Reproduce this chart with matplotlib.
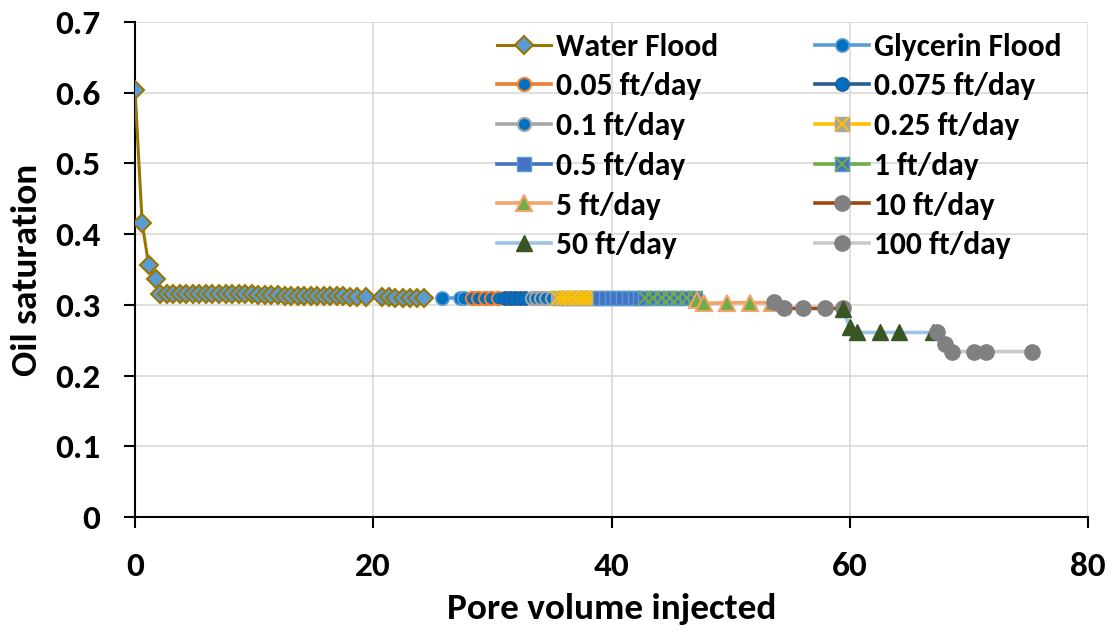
import matplotlib
matplotlib.use("Agg")
import matplotlib.pyplot as plt
from matplotlib import font_manager as fm

# pick a family that really has a bold face
chosen = 'DejaVu Sans'
for fam in ['Carlito', 'Lato', 'Open Sans', 'Noto Sans', 'Liberation Sans', 'Roboto']:
    try:
        f = fm.findfont(fm.FontProperties(family=fam, weight='bold'), fallback_to_default=False)
        if 'bold' in f.lower() or 'black' in f.lower() or 'heavy' in f.lower():
            chosen = fam
            break
    except Exception:
        pass
plt.rcParams['font.family'] = [chosen, 'DejaVu Sans']
plt.rcParams['font.weight'] = 'bold'

# ---- data ----
water_x = [0, 0.6, 1.15, 1.75, 2.1, 2.65, 3.2, 3.75, 4.3, 4.85, 5.4, 5.95, 6.5, 7.05,
           7.6, 8.15, 8.7, 9.25, 9.8, 10.35, 10.9, 11.45, 12.0, 12.55, 13.1, 13.65,
           14.2, 14.75, 15.3, 15.85, 16.4, 16.95, 17.5, 18.05, 18.6, 19.4, 20.7,
           21.3, 21.8, 22.5, 23.1, 23.7, 24.3]
water_y = [0.604, 0.416, 0.356, 0.336, 0.316, 0.316, 0.316, 0.316, 0.316, 0.316,
           0.316, 0.316, 0.316, 0.315, 0.315, 0.315, 0.315, 0.315, 0.315, 0.314,
           0.314, 0.314, 0.314, 0.313, 0.313, 0.313, 0.313, 0.312, 0.312, 0.312,
           0.312, 0.312, 0.312, 0.311, 0.311, 0.311, 0.311, 0.311, 0.310, 0.310,
           0.310, 0.310, 0.310]

glyc_x = [25.8, 27.3, 27.6]
glyc_y = [0.309, 0.309, 0.309]

r005_x = [28.3, 28.8, 29.4, 29.9, 30.5]
r005_y = [0.309, 0.309, 0.309, 0.309, 0.309]

r0075_x = [31.1, 31.5, 31.9, 32.3, 32.7]
r0075_y = [0.309, 0.309, 0.309, 0.309, 0.309]

r01_x = [33.3, 33.7, 34.1, 34.5, 35.0]
r01_y = [0.309, 0.309, 0.309, 0.309, 0.309]

r025_x = [35.5, 35.9, 36.3, 36.7, 37.1, 37.5, 37.9, 38.3, 38.7]
r025_y = [0.309, 0.309, 0.309, 0.309, 0.309, 0.309, 0.309, 0.309, 0.309]

r05_x = [39.0, 39.5, 40.0, 40.5, 41.0, 41.5, 42.0, 42.4]
r05_y = [0.309, 0.309, 0.309, 0.309, 0.309, 0.309, 0.309, 0.309]

r1_x = [42.8, 43.5, 44.2, 44.9, 45.6, 46.3, 47.0]
r1_y = [0.309, 0.309, 0.309, 0.309, 0.309, 0.309, 0.309]

r5_x = [47.2, 47.8, 49.7, 51.6, 53.5]
r5_y = [0.307, 0.302, 0.303, 0.303, 0.303]

r10_x = [53.6, 54.5, 56.1, 57.9, 59.4]
r10_y = [0.304, 0.295, 0.295, 0.295, 0.295]

r50_x = [59.4, 60.0, 60.6, 62.5, 64.1, 67.0]
r50_y = [0.294, 0.269, 0.261, 0.261, 0.261, 0.261]

r100_x = [67.3, 68.0, 68.6, 70.4, 71.4, 75.3]
r100_y = [0.262, 0.245, 0.234, 0.234, 0.234, 0.234]

x_ticks = [0, 20, 40, 60, 80]
y_ticks = [0, 0.1, 0.2, 0.3, 0.4, 0.5, 0.6, 0.7]
y_ticklabels = ['0', '0.1', '0.2', '0.3', '0.4', '0.5', '0.6', '0.7']

# ---- figure ----
W, H, DPI = 1115, 639, 100
fig = plt.figure(figsize=(W / DPI, H / DPI), dpi=DPI)
ax = fig.add_axes([135 / W, 1 - 517 / H, 953 / W, 495 / H])
renderer = fig.canvas.get_renderer()


def fit(text, target_px, base=20.0):
    t = fig.text(0, 0, text, fontsize=base, fontweight='bold')
    w = t.get_window_extent(renderer).width
    t.remove()
    return max(10.0, min(base * target_px / w, 34.0))


FS_LAB = fit('Pore volume injected', 330)
FS_TICK = 0.5 * (fit('0.7', 45) + fit('40', 36))
FS_LEG = 0.5 * (fit('Glycerin Flood', 188) + fit('Water Flood', 163))

lw = 2.6
ax.plot(water_x, water_y, color='#9A7600', lw=2.2, marker='D', ms=9.5,
        mfc='#5B9BD5', mec='#9A7600', mew=1.5, label='Water Flood', zorder=3)
ax.plot(glyc_x, glyc_y, color='#5B9BD5', lw=lw, marker='o', ms=9.5,
        mfc='#0070C0', mec='#5B9BD5', mew=1.2, label='Glycerin Flood', zorder=3)
ax.plot(r005_x, r005_y, color='#ED7D31', lw=lw, marker='o', ms=9.5,
        mfc='#0070C0', mec='#ED7D31', mew=1.5, label='0.05 ft/day', zorder=3)
ax.plot(r0075_x, r0075_y, color='#255E91', lw=lw, marker='o', ms=9.5,
        mfc='#0070C0', mec='#1F5FA0', mew=1.2, label='0.075 ft/day', zorder=3)
ax.plot(r01_x, r01_y, color='#A5A5A5', lw=lw, marker='o', ms=9.5,
        mfc='#0070C0', mec='#A5A5A5', mew=1.5, label='0.1 ft/day', zorder=3)

# 0.25 ft/day: grey squares with yellow x
ax.plot(r025_x, r025_y, color='#FFC000', lw=lw, marker='s', ms=9.5,
        mfc='#A5A5A5', mec='#A5A5A5', mew=1, zorder=3)
ax.plot(r025_x, r025_y, ls='none', marker='x', ms=9.5, mec='#FFC000', mew=1.5, zorder=3)
h025 = plt.Line2D([], [], color='#FFC000', lw=lw, marker='s', ms=9.5,
                  mfc='#A5A5A5', mec='#A5A5A5')
h025x = plt.Line2D([], [], ls='none', marker='x', ms=9.5, mec='#FFC000', mew=1.5)

ax.plot(r05_x, r05_y, color='#4472C4', lw=lw, marker='s', ms=9.5,
        mfc='#4472C4', mec='#5B9BD5', mew=1, label='0.5 ft/day', zorder=3)

# 1 ft/day: blue squares with green x
ax.plot(r1_x, r1_y, color='#70AD47', lw=lw, marker='s', ms=9.5,
        mfc='#4472C4', mec='#5B9BD5', mew=1, zorder=3)
ax.plot(r1_x, r1_y, ls='none', marker='x', ms=9.5, mec='#70AD47', mew=1.5, zorder=3)
h1 = plt.Line2D([], [], color='#70AD47', lw=lw, marker='s', ms=9.5,
                mfc='#4472C4', mec='#5B9BD5')
h1x = plt.Line2D([], [], ls='none', marker='x', ms=9.5, mec='#70AD47', mew=1.5)

ax.plot(r5_x, r5_y, color='#F4A36B', lw=lw, marker='^', ms=11,
        mfc='#70AD47', mec='#F4A36B', mew=1.5, label='5 ft/day', zorder=3)
ax.plot(r10_x, r10_y, color='#9E480E', lw=lw, marker='o', ms=11,
        mfc='#808080', mec='#808080', mew=1, label='10 ft/day', zorder=3)
ax.plot(r50_x, r50_y, color='#9DC3E6', lw=lw, marker='^', ms=11,
        mfc='#375623', mec='#375623', mew=1, label='50 ft/day', zorder=3)
ax.plot(r100_x, r100_y, color='#C9C9C9', lw=lw, marker='o', ms=11,
        mfc='#808080', mec='#808080', mew=1, label='100 ft/day', zorder=3)

ax.set_xlim(0, 80)
ax.set_ylim(0, 0.7)
ax.set_xticks(x_ticks)
ax.set_yticks(y_ticks)
ax.set_yticklabels(y_ticklabels)
ax.grid(True, color='#D9D9D9', lw=1.2, zorder=0)
ax.set_axisbelow(True)
for s in ['top', 'right']:
    ax.spines[s].set_visible(False)
for s in ['left', 'bottom']:
    ax.spines[s].set_color('black')
    ax.spines[s].set_linewidth(1.5)
ax.tick_params(direction='out', length=8, width=1.5, labelsize=FS_TICK)
ax.tick_params(axis='y', pad=17)
ax.tick_params(axis='x', pad=17)
for lab in ax.get_xticklabels() + ax.get_yticklabels():
    lab.set_fontweight('bold')

ax.set_xlabel('Pore volume injected', fontsize=FS_LAB, fontweight='bold')
ax.xaxis.label.set_verticalalignment('baseline')
ax.xaxis.set_label_coords(0.5, -(619 - 517) / 495)
ax.set_ylabel('Oil saturation', fontsize=FS_LAB, fontweight='bold')
ax.yaxis.label.set_verticalalignment('center')
ax.yaxis.label.set_horizontalalignment('center')
ax.yaxis.set_label_coords(-(135 - 27) / 953, 0.5)

# legend: two columns placed at the reference pixel positions
hs, ls_ = ax.get_legend_handles_labels()
hmap = dict(zip(ls_, hs))
col1 = [(hmap['Water Flood'], 'Water Flood'), (hmap['0.05 ft/day'], '0.05 ft/day'),
        (hmap['0.1 ft/day'], '0.1 ft/day'), (hmap['0.5 ft/day'], '0.5 ft/day'),
        (hmap['5 ft/day'], '5 ft/day'), (hmap['50 ft/day'], '50 ft/day')]
col2 = [(hmap['Glycerin Flood'], 'Glycerin Flood'), (hmap['0.075 ft/day'], '0.075 ft/day'),
        ((h025, h025x), '0.25 ft/day'), ((h1, h1x), '1 ft/day'),
        (hmap['10 ft/day'], '10 ft/day'), (hmap['100 ft/day'], '100 ft/day')]

px_per_fs = FS_LEG * DPI / 72.0
HL = 54 / px_per_fs
HTP = 5 / px_per_fs
ROW_PITCH = 39.7
FIRST_ROW = 46.7


def build(items, x_px, top_px, lsp):
    return ax.legend([h for h, _ in items], [l for _, l in items],
                     loc='upper left', bbox_to_anchor=(x_px / W, 1 - top_px / H),
                     bbox_transform=fig.transFigure, frameon=False,
                     prop={'size': FS_LEG, 'weight': 'bold'}, handlelength=HL,
                     handletextpad=HTP, labelspacing=lsp, borderpad=0,
                     borderaxespad=0)


def centers(leg):
    fig.canvas.draw()
    r = fig.canvas.get_renderer()
    return [H - 0.5 * (t.get_window_extent(r).y0 + t.get_window_extent(r).y1)
            for t in leg.get_texts()]


lsp, top = 0.5, 30.0
leg = build(col1, 497, top, lsp)
c = centers(leg)
pitch = (c[-1] - c[0]) / 5
lsp = lsp + (ROW_PITCH - pitch) / px_per_fs
leg = build(col1, 497, top, lsp)
c = centers(leg)
top = top + (FIRST_ROW - c[0])
leg1 = build(col1, 497, top, lsp)
ax.add_artist(leg1)
leg2 = build(col2, 815, top, lsp)

fig.savefig('out.png', dpi=DPI)
